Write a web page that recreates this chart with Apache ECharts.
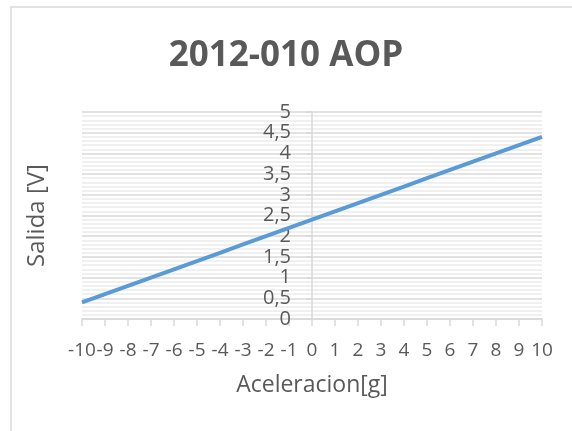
<!DOCTYPE html>
<html>
<head>
<meta charset="utf-8">
<title>2012-010 AOP</title>
<script src="https://cdn.jsdelivr.net/npm/echarts@6/dist/echarts.min.js"></script>
<style>
  html, body { margin: 0; padding: 0; background: #fff; }
  #chart { width: 572px; height: 431px; }
</style>
</head>
<body>
<div id="chart"></div>
<script type="text/javascript">
// aceleracion [g] vs salida [V]
var aceleracion = [-10, -9, -8, -7, -6, -5, -4, -3, -2, -1, 0, 1, 2, 3, 4, 5, 6, 7, 8, 9, 10];
var salida = [0.4, 0.6, 0.8, 1.0, 1.2, 1.4, 1.6, 1.8, 2.0, 2.2, 2.4, 2.6, 2.8, 3.0, 3.2, 3.4, 3.6, 3.8, 4.0, 4.2, 4.4];

var points = [];
for (var i = 0; i < aceleracion.length; i++) {
  points.push([aceleracion[i], salida[i]]);
}

var txt = '#595959';
var font = '"Open Sans", "DejaVu Sans", sans-serif';

var myChart = echarts.init(document.getElementById('chart'));
var option = {
  animation: false,
  backgroundColor: '#fff',
  textStyle: { fontFamily: font, color: txt },
  graphic: [{
    type: 'rect',
    shape: { x: 11, y: 7, width: 600, height: 500 },
    style: { fill: 'none', stroke: '#d9d9d9', lineWidth: 1.5 },
    silent: true
  }],
  title: {
    text: '2012-010 AOP',
    left: 'center',
    top: 34,
    textStyle: { fontFamily: font, fontSize: 35, fontWeight: 'bold', color: txt }
  },
  grid: { left: 82, right: 30, top: 112, bottom: 112, containLabel: false, outerBoundsMode: 'none' },
  xAxis: {
    type: 'value',
    min: -10,
    max: 10,
    interval: 1,
    name: 'Aceleracion[g]',
    nameLocation: 'middle',
    nameGap: 55,
    nameTextStyle: { fontFamily: font, fontSize: 23, color: txt },
    axisLine: { onZero: false, lineStyle: { color: '#d9d9d9', width: 1.5 } },
    axisTick: { show: true, length: 7, lineStyle: { color: '#d9d9d9', width: 1.5 } },
    axisLabel: { fontFamily: font, fontSize: 19, color: txt, margin: 22, hideOverlap: false, showMinLabel: true, showMaxLabel: true },
    splitLine: { show: false }
  },
  yAxis: {
    type: 'value',
    min: 0,
    max: 5,
    interval: 0.5,
    offset: -230,
    name: 'Salida [V]',
    nameLocation: 'middle',
    nameGap: 263,
    nameTextStyle: { fontFamily: font, fontSize: 24, color: txt },
    axisLine: { show: true, onZero: false, lineStyle: { color: '#d9d9d9', width: 1.5 } },
    axisTick: { show: true, length: 6, lineStyle: { color: '#d9d9d9', width: 1.5 } },
    axisLabel: {
      fontFamily: font, fontSize: 20, color: txt, margin: 21,
      formatter: function (v) { return String(v).replace('.', ','); }
    },
    splitLine: { show: true, lineStyle: { color: '#d9d9d9', width: 1.5 } },
    minorTick: { show: false, splitNumber: 5 },
    minorSplitLine: { show: true, lineStyle: { color: '#ececec', width: 1.5 } }
  },
  series: [{
    name: 'Salida',
    type: 'line',
    data: points,
    showSymbol: false,
    symbol: 'none',
    lineStyle: { color: '#5b9bd5', width: 4 },
    itemStyle: { color: '#5b9bd5' }
  }]
};
myChart.setOption(option);
</script>
</body>
</html>
